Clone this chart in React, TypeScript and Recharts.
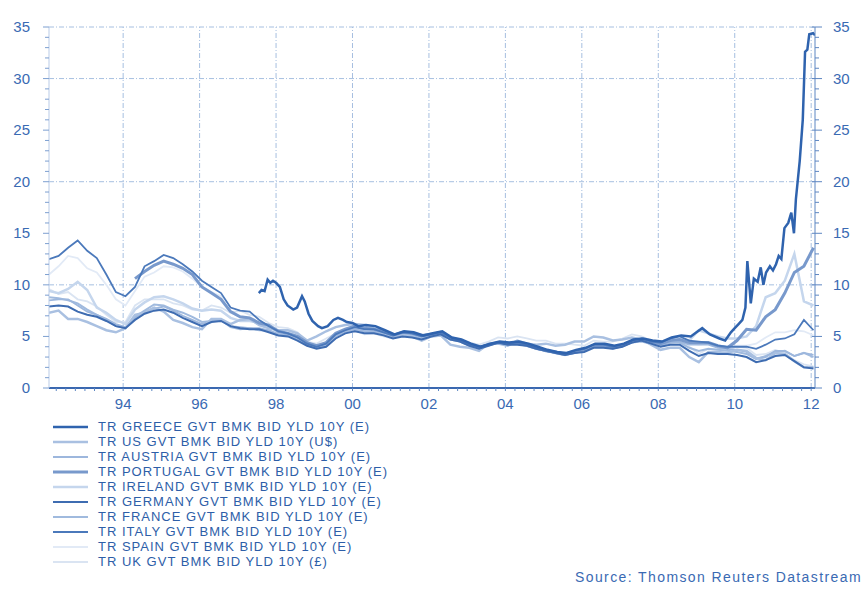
import { LineChart, Line, XAxis, YAxis, ReferenceLine } from "recharts";

// quarterly observation dates, 1992 Q1 .. 2012 Q1
const quarterDates = Array.from({ length: 81 }, (_, i) => 1992.06 + 0.25 * i);

const yieldTicks = Array.from({ length: 36 }, (_, i) => i);
const yearGrid = [1994, 1996, 1998, 2000, 2002, 2004, 2006, 2008, 2010, 2012];
const yieldGrid = [10, 20, 30, 35];
const quarterTicks = Array.from({ length: 80 }, (_, i) => 1992.25 + 0.25 * i);

const usYield = [
  7.3, 7.5, 6.7, 6.7, 6.4, 6.0, 5.6, 5.4, 5.8, 7.1, 7.3, 7.8, 7.4, 6.6, 6.3, 5.9,
  5.7, 6.7, 6.7, 6.2, 6.6, 6.7, 6.1, 5.8, 5.6, 5.6, 5.3, 4.6, 5.0, 5.5, 5.9, 6.1,
  6.2, 6.1, 5.8, 5.6, 5.0, 5.3, 5.0, 4.6, 5.0, 5.1, 4.2, 4.0, 3.9, 3.6, 4.3, 4.3,
  4.1, 4.6, 4.3, 4.2, 4.3, 4.1, 4.2, 4.5, 4.5, 5.0, 4.9, 4.6, 4.7, 4.9, 4.7, 4.2,
  3.7, 3.9, 3.9, 3.0, 2.5, 3.5, 3.5, 3.4, 3.7, 3.6, 2.9, 2.7, 3.4, 3.3, 2.6, 2.0,
  2.0,
];
const austriaYield = [
  8.5, 8.6, 8.6, 8.0, 7.4, 7.1, 6.7, 6.2, 5.9, 6.8, 7.4, 7.7, 7.9, 7.5, 7.0, 6.6,
  6.2, 6.5, 6.6, 6.0, 5.9, 5.8, 5.8, 5.6, 5.2, 5.1, 4.8, 4.2, 3.9, 4.2, 5.0, 5.5,
  5.7, 5.5, 5.5, 5.3, 5.0, 5.2, 5.1, 4.9, 5.1, 5.3, 4.8, 4.6, 4.2, 3.9, 4.2, 4.4,
  4.3, 4.3, 4.1, 3.8, 3.6, 3.4, 3.2, 3.4, 3.6, 4.0, 4.0, 3.9, 4.1, 4.4, 4.6, 4.3,
  4.2, 4.4, 4.5, 4.2, 4.2, 4.2, 3.9, 3.8, 3.7, 3.5, 2.9, 3.0, 3.6, 3.6, 3.1, 3.4,
  3.2,
];
const portugalYield = [
  null, null, null, null, null, null, null, null, null, 10.6, 11.3, 11.9, 12.3, 12.0, 11.6, 11.0,
  9.8, 9.2, 8.6, 7.4, 6.9, 6.8, 6.3, 6.1, 5.5, 5.3, 5.0, 4.4, 4.1, 4.4, 5.3, 5.7,
  6.0, 5.8, 5.7, 5.5, 5.1, 5.4, 5.3, 5.1, 5.2, 5.4, 4.9, 4.6, 4.2, 3.9, 4.2, 4.4,
  4.3, 4.4, 4.2, 3.9, 3.6, 3.5, 3.3, 3.5, 3.7, 4.1, 4.1, 3.9, 4.1, 4.5, 4.7, 4.5,
  4.3, 4.6, 4.7, 4.4, 4.4, 4.4, 4.1, 3.9, 4.6, 5.7, 5.6, 6.9, 7.6, 9.2, 11.2, 11.8,
  13.6,
];
const irelandYield = [
  9.4, 9.2, 9.6, 10.3, 9.5, 7.8, 7.3, 6.6, 6.2, 7.6, 8.3, 8.8, 8.9, 8.6, 8.2, 7.7,
  7.5, 7.6, 7.5, 6.8, 6.5, 6.5, 6.3, 6.0, 5.4, 5.3, 5.0, 4.4, 4.0, 4.3, 5.1, 5.6,
  5.8, 5.6, 5.6, 5.3, 5.0, 5.3, 5.1, 4.9, 5.2, 5.4, 4.8, 4.6, 4.2, 3.9, 4.2, 4.4,
  4.3, 4.3, 4.1, 3.8, 3.6, 3.4, 3.2, 3.5, 3.7, 4.1, 4.0, 3.9, 4.1, 4.5, 4.7, 4.5,
  4.3, 4.6, 4.7, 4.6, 5.6, 5.3, 5.0, 4.8, 4.8, 5.0, 6.0, 8.8, 9.2, 10.4, 13.0, 8.4,
  8.0,
];
const germanyYield = [
  7.9, 8.0, 7.9, 7.4, 7.1, 6.9, 6.5, 6.0, 5.8, 6.6, 7.2, 7.5, 7.6, 7.3, 6.8, 6.4,
  6.0, 6.4, 6.5, 6.0, 5.8, 5.7, 5.7, 5.4, 5.1, 5.0, 4.6, 4.1, 3.8, 4.0, 4.8, 5.3,
  5.5, 5.3, 5.3, 5.1, 4.8, 5.0, 4.9, 4.7, 5.0, 5.2, 4.7, 4.5, 4.1, 3.8, 4.1, 4.4,
  4.2, 4.2, 4.1, 3.8, 3.6, 3.4, 3.2, 3.4, 3.5, 3.9, 3.9, 3.8, 4.0, 4.4, 4.6, 4.3,
  4.0, 4.2, 4.2, 3.6, 3.1, 3.4, 3.3, 3.3, 3.2, 3.0, 2.5, 2.7, 3.1, 3.2, 2.6, 2.0,
  1.9,
];
const franceYield = [
  8.8, 8.7, 8.5, 8.2, 7.6, 7.1, 6.6, 6.0, 5.8, 6.9, 7.5, 8.1, 8.0, 7.6, 7.3, 6.9,
  6.4, 6.5, 6.6, 5.9, 5.7, 5.8, 5.6, 5.6, 5.2, 5.1, 4.8, 4.2, 3.9, 4.2, 5.0, 5.5,
  5.7, 5.5, 5.4, 5.2, 4.9, 5.2, 5.1, 4.9, 5.1, 5.3, 4.7, 4.5, 4.1, 3.9, 4.2, 4.4,
  4.3, 4.3, 4.1, 3.8, 3.6, 3.4, 3.2, 3.4, 3.6, 4.0, 4.0, 3.8, 4.1, 4.4, 4.5, 4.3,
  4.1, 4.4, 4.4, 3.9, 3.6, 3.8, 3.7, 3.6, 3.5, 3.3, 2.8, 3.1, 3.5, 3.6, 3.1, 3.4,
  3.0,
];
const italyYield = [
  12.5, 12.8, 13.6, 14.3, 13.3, 12.6, 11.0, 9.3, 8.9, 9.8, 11.8, 12.3, 12.9, 12.6, 12.0, 11.3,
  10.4, 9.8, 9.2, 7.8, 7.5, 7.4, 6.6, 6.0, 5.5, 5.3, 4.9, 4.3, 4.0, 4.3, 5.2, 5.6,
  5.9, 5.7, 5.7, 5.4, 5.1, 5.4, 5.3, 5.0, 5.2, 5.4, 4.9, 4.6, 4.2, 4.0, 4.2, 4.4,
  4.3, 4.4, 4.2, 3.9, 3.7, 3.5, 3.3, 3.6, 3.8, 4.2, 4.2, 4.0, 4.2, 4.6, 4.8, 4.5,
  4.4, 4.8, 5.0, 4.6, 4.5, 4.4, 4.1, 4.0, 4.0, 4.0, 3.8, 4.2, 4.7, 4.8, 5.2, 6.6,
  5.6,
];
const spainYield = [
  11.0, 11.8, 12.8, 12.6, 11.6, 11.2, 10.0, 8.6, 8.0, 9.4, 10.8, 11.2, 11.8, 11.7, 11.3, 10.6,
  9.8, 9.3, 8.9, 7.3, 6.9, 6.8, 6.3, 6.0, 5.4, 5.2, 4.9, 4.3, 3.9, 4.2, 5.2, 5.6,
  5.8, 5.6, 5.6, 5.3, 5.0, 5.3, 5.2, 5.0, 5.2, 5.4, 4.8, 4.5, 4.1, 3.9, 4.2, 4.4,
  4.3, 4.3, 4.1, 3.8, 3.6, 3.4, 3.2, 3.5, 3.7, 4.1, 4.0, 3.9, 4.1, 4.5, 4.7, 4.4,
  4.2, 4.5, 4.7, 4.3, 4.2, 4.3, 4.0, 3.9, 4.1, 4.1, 4.3, 4.9, 5.4, 5.4, 5.6, 5.5,
  5.1,
];
const ukYield = [
  9.6, 9.1, 9.3, 8.6, 8.4, 7.9, 7.1, 6.4, 6.4, 8.0, 8.6, 8.6, 8.6, 8.2, 8.0, 7.6,
  7.5, 8.0, 7.8, 7.3, 7.5, 7.1, 6.9, 6.3, 5.9, 5.8, 5.4, 4.5, 4.3, 4.8, 5.3, 5.4,
  5.6, 5.2, 5.3, 5.0, 4.8, 5.2, 5.0, 4.9, 5.1, 5.3, 4.7, 4.6, 4.4, 4.2, 4.5, 4.9,
  4.8, 5.0, 4.8, 4.6, 4.6, 4.3, 4.3, 4.2, 4.1, 4.6, 4.5, 4.5, 4.8, 5.2, 5.0, 4.6,
  4.5, 4.8, 4.6, 4.0, 3.3, 3.8, 3.7, 3.7, 4.0, 3.9, 3.2, 3.3, 3.7, 3.4, 2.7, 2.3,
  2.1,
];

// Greece enters in mid-1997, sampled more finely for the 2010-12 crisis
const greeceDates = [
  1997.55, 1997.62, 1997.7, 1997.78, 1997.85, 1997.92, 1998.0, 1998.1, 1998.2, 1998.3,
  1998.45, 1998.55, 1998.68, 1998.75, 1998.85, 1998.95, 1999.1, 1999.2, 1999.35, 1999.5,
  1999.62, 1999.75, 1999.85, 2000.0, 2000.15, 2000.35, 2000.6, 2000.85, 2001.1, 2001.35,
  2001.6, 2001.85, 2002.1, 2002.35, 2002.6, 2002.85, 2003.1, 2003.35, 2003.6, 2003.85,
  2004.1, 2004.35, 2004.6, 2004.85, 2005.1, 2005.35, 2005.6, 2005.85, 2006.1, 2006.35,
  2006.6, 2006.85, 2007.1, 2007.35, 2007.6, 2007.85, 2008.1, 2008.35, 2008.6, 2008.85,
  2009.0, 2009.15, 2009.35, 2009.6, 2009.75, 2009.9, 2010.0, 2010.1, 2010.2, 2010.28,
  2010.33, 2010.37, 2010.42, 2010.5, 2010.6, 2010.68, 2010.75, 2010.82, 2010.92, 2011.0,
  2011.08, 2011.15, 2011.22, 2011.3, 2011.4, 2011.48, 2011.55, 2011.6, 2011.7, 2011.78,
  2011.84, 2011.9, 2011.95, 2012.05, 2012.1,
];
const greeceYield = [
  9.2, 9.5, 9.4, 10.5, 10.2, 10.4, 10.2, 9.8, 8.6, 8.0,
  7.6, 7.8, 8.9, 8.4, 7.2, 6.5, 6.0, 5.8, 6.0, 6.6,
  6.8, 6.6, 6.4, 6.3, 6.0, 6.1, 6.0, 5.6, 5.2, 5.5,
  5.4, 5.1, 5.3, 5.5, 4.9, 4.7, 4.3, 4.0, 4.3, 4.5,
  4.4, 4.5, 4.3, 4.0, 3.7, 3.5, 3.4, 3.7, 3.9, 4.3,
  4.3, 4.1, 4.3, 4.7, 4.8, 4.6, 4.5, 4.9, 5.1, 5.0,
  5.4, 5.8, 5.2, 4.8, 4.6, 5.4, 5.8, 6.2, 6.6, 7.8,
  12.3, 10.5, 8.2, 10.6, 10.3, 11.7, 10.0, 11.2, 11.8, 11.4,
  12.0, 12.8, 12.5, 15.5, 16.0, 17.0, 15.0, 18.3, 22.0, 26.0,
  32.6, 32.8, 34.3, 34.4, 34.2,
];

const rows = quarterDates.map((t, i) => ({
  t,
  us: usYield[i],
  austria: austriaYield[i],
  portugal: portugalYield[i],
  ireland: irelandYield[i],
  germany: germanyYield[i],
  france: franceYield[i],
  italy: italyYield[i],
  spain: spainYield[i],
  uk: ukYield[i],
}));
const greeceRows = greeceDates.map((t, i) => ({ t, greece: greeceYield[i] }));

// legend order
const series = [
  { key: "greece", name: "TR GREECE GVT BMK BID YLD 10Y (E)", color: "#2f63ae", width: 2.5 },
  { key: "us", name: "TR US GVT BMK BID YLD 10Y (U$)", color: "#a9c0e1", width: 2.5 },
  { key: "austria", name: "TR AUSTRIA GVT BMK BID YLD 10Y (E)", color: "#9db7dd", width: 1.8 },
  { key: "portugal", name: "TR PORTUGAL GVT BMK BID YLD 10Y (E)", color: "#7899cc", width: 3 },
  { key: "ireland", name: "TR IRELAND GVT BMK BID YLD 10Y (E)", color: "#c5d6ed", width: 2.5 },
  { key: "germany", name: "TR GERMANY GVT BMK BID YLD 10Y (E)", color: "#3e6cb1", width: 2 },
  { key: "france", name: "TR FRANCE GVT BMK BID YLD 10Y (E)", color: "#a0bade", width: 2 },
  { key: "italy", name: "TR ITALY GVT BMK BID YLD 10Y (E)", color: "#4b79bb", width: 1.8 },
  { key: "spain", name: "TR SPAIN GVT BMK BID YLD 10Y (E)", color: "#e2eaf6", width: 1.8 },
  { key: "uk", name: "TR UK GVT BMK BID YLD 10Y (\u00a3)", color: "#dae4f2", width: 1.8 },
];
const drawOrder = ["uk", "spain", "ireland", "france", "austria", "us", "portugal", "italy", "germany"];

const textBlue = "#3a6ab3";
const gridBlue = "#a6bfe0";

function LeftTick(props: any) {
  const { x, y, payload } = props;
  const v = payload.value;
  const major = v % 5 === 0;
  return (
    <g>
      <line x1={x - (major ? 6 : 4)} x2={x} y1={y} y2={y} stroke="#7d9fd0" strokeWidth={1} />
      {major && (
        <text x={x - 19} y={y + 5} textAnchor="end" fontSize={15} fill={textBlue}>
          {v}
        </text>
      )}
    </g>
  );
}

function RightTick(props: any) {
  const { x, y, payload } = props;
  const v = payload.value;
  const major = v % 5 === 0;
  return (
    <g>
      <line x1={x - (major ? 3 : 0)} x2={x + (major ? 7 : 4)} y1={y} y2={y} stroke="#5d86c2" strokeWidth={1} />
      {major && (
        <text x={x + 18} y={y + 5} textAnchor="start" fontSize={15} fill={textBlue}>
          {v}
        </text>
      )}
    </g>
  );
}

function BottomTick(props: any) {
  const { x, y, payload } = props;
  const v = payload.value;
  const isYear = Number.isInteger(v) && v % 2 === 0;
  return (
    <g>
      <line x1={x} x2={x} y1={y} y2={y + 3} stroke="#5d86c2" strokeWidth={1} />
      {isYear && (
        <text x={x} y={y + 21} textAnchor="middle" fontSize={15} fill={textBlue}>
          {String(v % 100).padStart(2, "0")}
        </text>
      )}
    </g>
  );
}

export default function App() {
  return (
    <div
      style={{
        position: "absolute",
        left: 0,
        top: 0,
        width: 866,
        height: 590,
        overflow: "hidden",
        background: "#fff",
        fontFamily: "'Liberation Sans', Arial, sans-serif",
      }}
    >
      <LineChart width={866} height={420} data={rows} margin={{ top: 27, right: 6, bottom: 8, left: 9 }}>
        <XAxis
          dataKey="t"
          type="number"
          domain={[1992.06, 2012.1]}
          ticks={quarterTicks}
          interval={0}
          tickSize={0}
          tickMargin={0}
          tick={<BottomTick />}
          height={24}
          axisLine={{ stroke: "#3a68b0", strokeWidth: 2 }}
          allowDataOverflow
        />
        <YAxis
          yAxisId="left"
          domain={[0, 35]}
          ticks={yieldTicks}
          interval={0}
          tickSize={0}
          tickMargin={0}
          tick={<LeftTick />}
          width={40}
          axisLine={{ stroke: "#b9cbe7" }}
          allowDataOverflow
        />
        <YAxis
          yAxisId="right"
          orientation="right"
          domain={[0, 35]}
          ticks={yieldTicks}
          interval={0}
          tickSize={0}
          tickMargin={0}
          tick={<RightTick />}
          width={45}
          axisLine={{ stroke: "#5d86c2" }}
          allowDataOverflow
        />
        {yearGrid.map((yr) => (
          <ReferenceLine key={"v" + yr} x={yr} yAxisId="left" stroke={gridBlue} strokeDasharray="5 2 1 2" />
        ))}
        {yieldGrid.map((v) => (
          <ReferenceLine key={"h" + v} y={v} yAxisId="left" stroke={gridBlue} strokeDasharray="5 2 1 2" />
        ))}
        {drawOrder.map((k) => {
          const s = series.find((d) => d.key === k)!;
          return (
            <Line
              key={k}
              yAxisId={k === "uk" ? "right" : "left"}
              type="linear"
              dataKey={k}
              stroke={s.color}
              strokeWidth={s.width}
              dot={false}
              isAnimationActive={false}
            />
          );
        })}
        <Line
          yAxisId="left"
          data={greeceRows}
          type="linear"
          dataKey="greece"
          stroke="#2f63ae"
          strokeWidth={2.5}
          dot={false}
          isAnimationActive={false}
        />
      </LineChart>
      {series.map((s, i) => (
        <div
          key={s.key}
          style={{ position: "absolute", left: 53, top: 419 + i * 15, height: 15, display: "flex", alignItems: "center" }}
        >
          <svg width={35} height={15} style={{ display: "block" }}>
            <line x1={0} x2={35} y1={8} y2={8} stroke={s.color} strokeWidth={s.width} />
          </svg>
          <span
            style={{ marginLeft: 10, fontSize: 13, letterSpacing: 1.0, color: "#2d5ea8", whiteSpace: "nowrap" }}
          >
            {s.name}
          </span>
        </div>
      ))}
      <div
        style={{
          position: "absolute",
          right: 4,
          top: 569,
          fontSize: 14,
          letterSpacing: 1.4,
          color: textBlue,
          whiteSpace: "nowrap",
        }}
      >
        Source: Thomson Reuters Datastream
      </div>
    </div>
  );
}
